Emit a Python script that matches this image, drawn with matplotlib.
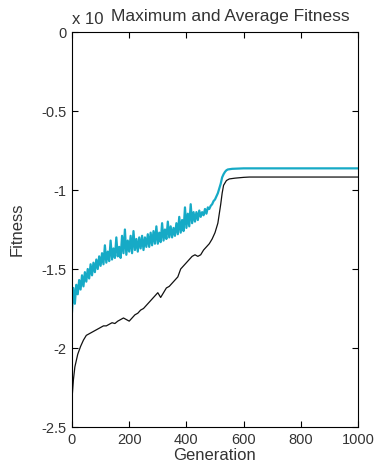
import matplotlib
matplotlib.use('Agg')
import matplotlib.pyplot as plt

plt.rcParams['font.family'] = ['Liberation Sans', 'DejaVu Sans']

# Average fitness (cyan), sampled every 5 generations up to 545, then plateau
avg_gen = list(range(0, 550, 5)) + [560, 600, 1000]
avg_fit = [
    -1.77, -1.62, -1.72, -1.60, -1.66, -1.57, -1.63, -1.54, -1.61, -1.52,
    -1.58, -1.50, -1.56, -1.47, -1.54, -1.46, -1.52, -1.44, -1.50, -1.42,
    -1.48, -1.40, -1.47, -1.35, -1.46, -1.39, -1.45, -1.32, -1.44, -1.37,
    -1.43, -1.30, -1.42, -1.36, -1.43, -1.29, -1.40, -1.25, -1.41, -1.32,
    -1.39, -1.29, -1.40, -1.26, -1.38, -1.31, -1.39, -1.30, -1.37, -1.29,
    -1.38, -1.30, -1.36, -1.28, -1.36, -1.27, -1.35, -1.26, -1.34, -1.23,
    -1.34, -1.27, -1.33, -1.21, -1.32, -1.25, -1.31, -1.20, -1.30, -1.23,
    -1.30, -1.24, -1.29, -1.21, -1.28, -1.17, -1.27, -1.19, -1.26, -1.11,
    -1.24, -1.15, -1.23, -1.09, -1.21, -1.14, -1.20, -1.14, -1.19, -1.13,
    -1.17, -1.14, -1.16, -1.12, -1.15, -1.11, -1.12, -1.10, -1.09, -1.07,
    -1.06, -1.04, -1.02, -0.99, -0.96, -0.92, -0.90, -0.885, -0.875, -0.870,
    -0.866, -0.863, -0.863,
]

# Maximum fitness (black)
max_gen = [0, 5, 10, 20, 30, 40, 50, 60, 70, 80, 90, 100, 110, 120, 130,
           140, 150, 160, 170, 180, 190, 200, 210, 220, 230, 240, 250, 260,
           270, 280, 290, 300, 310, 320, 330, 340, 350, 360, 370, 380, 390,
           400, 410, 420, 430, 440, 450, 460, 470, 480, 490, 500, 510, 520,
           525, 530, 540, 550, 570, 600, 620, 1000]
max_fit = [-2.32, -2.20, -2.12, -2.04, -1.99, -1.95, -1.92, -1.91, -1.90,
           -1.89, -1.88, -1.87, -1.86, -1.86, -1.85, -1.84, -1.845, -1.83,
           -1.82, -1.81, -1.82, -1.83, -1.81, -1.79, -1.78, -1.76, -1.75,
           -1.73, -1.71, -1.69, -1.67, -1.65, -1.68, -1.65, -1.62, -1.61,
           -1.59, -1.57, -1.55, -1.50, -1.48, -1.46, -1.44, -1.42, -1.41,
           -1.42, -1.41, -1.38, -1.36, -1.34, -1.31, -1.27, -1.21, -1.09,
           -1.02, -0.97, -0.94, -0.93, -0.925, -0.92, -0.918, -0.918]

xticks = [0, 200, 400, 600, 800, 1000]
yticks = [-2.5, -2, -1.5, -1, -0.5, 0]
ytick_labels = ['-2.5', '-2', '-1.5', '-1', '-0.5', '0']

fig = plt.figure(figsize=(3.74, 4.67), dpi=100)
ax = fig.add_axes([72 / 374, 1 - 427 / 467, 286 / 374, 395 / 467])

ax.plot(avg_gen, avg_fit, color='#16aac6', lw=1.6)
ax.plot(max_gen, max_fit, color='#111111', lw=0.9)

ax.set_xlim(0, 1000)
ax.set_ylim(-2.5, 0)
ax.set_xticks(xticks)
ax.set_yticks(yticks)
ax.set_yticklabels(ytick_labels)
ax.tick_params(direction='in', length=4, width=0.8, top=True, right=True,
               labelsize=10.5, labelcolor='#333333', pad=4)
for s in ax.spines.values():
    s.set_linewidth(0.8)

ax.set_xlabel('Generation', fontsize=12, color='#333333', labelpad=1)
ax.set_ylabel('Fitness', fontsize=12, color='#333333', labelpad=12)

fig.text(230 / 374, 1 - 16 / 467, 'Maximum and Average Fitness', ha='center',
         va='center', fontsize=12.5, color='#333333')
fig.text(72 / 374, 1 - 19 / 467, 'x 10', ha='left', va='center',
         fontsize=12, color='#333333')

fig.savefig('out.png', dpi=100)
